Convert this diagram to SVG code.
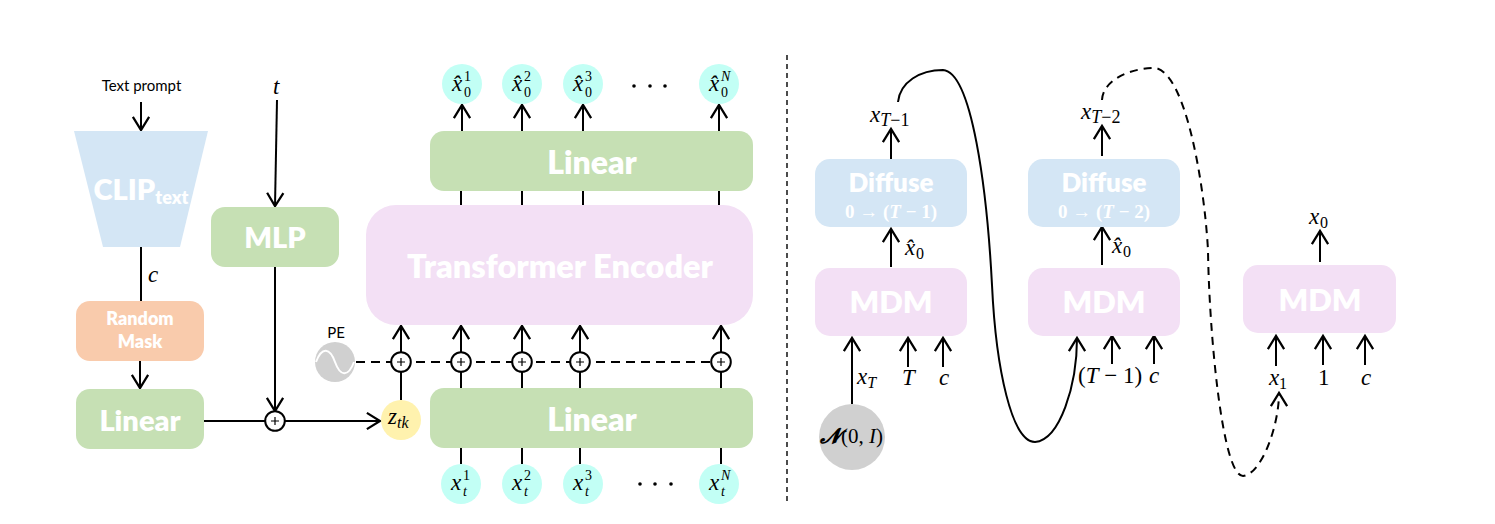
<svg xmlns="http://www.w3.org/2000/svg" width="1495" height="524" viewBox="0 0 1495 524">
<defs>
<marker id="v" markerUnits="userSpaceOnUse" markerWidth="20" markerHeight="20" refX="12" refY="8" orient="auto" viewBox="0 0 14 16"><path d="M1.5 1.5L12 8L1.5 14.5" fill="none" stroke="#000" stroke-width="1.8"/></marker>
<g id="plus"><circle r="9.8" fill="#fff" stroke="#000" stroke-width="2"/><path d="M-4 0H4M0 -4V4" stroke="#000" stroke-width="1.2"/></g>
</defs>
<style>
.l{stroke:#000;stroke-width:2;fill:none}
.a{stroke:#000;stroke-width:2;fill:none;marker-end:url(#v)}
.d{stroke-dasharray:9 6}
.t{font-family:Lato,"Open Sans",sans-serif;font-weight:800;fill:#fff;text-anchor:middle}
.p{font-family:Lato,"Open Sans",sans-serif;fill:#000;text-anchor:middle;font-size:15px}
.m{font-family:"Liberation Serif",serif;font-style:italic;fill:#000;font-size:23px}
.r{font-family:"Liberation Serif",serif;fill:#000;font-size:23px}
.s{font-size:16px}
.u{font-size:14px}
.x{font-size:18px}
.n{font-style:normal}
.f{font-family:"Liberation Serif",serif;font-weight:700;font-size:19px;fill:#fff;text-anchor:middle}
.g{fill:#c6e0b4}.b{fill:#d4e6f5}.v{fill:#f3e0f5}.o{fill:#f9cbac}.c{fill:#c2fff5}
</style>
<g id="connectors">
<path class="a" d="M141 102V130"/>
<path class="l" d="M141 247V301"/>
<path class="a" d="M140 361V388"/>
<path class="a" d="M277 100L275 206"/>
<path class="a" d="M275 267V411"/>
<path class="l" d="M204 421H265"/>
<path class="a" d="M285 421H380"/>
<path class="l d" d="M356 362H711"/>
<path class="l" d="M401 400V372"/>
<path class="a" d="M401 352V326"/>
<path class="a" d="M461 352V326"/>
<path class="a" d="M522 352V326"/>
<path class="a" d="M580 352V326"/>
<path class="a" d="M721 352V326"/>
<path class="l" d="M461 388V372M522 388V372M580 388V372M721 388V372"/>
<path class="l" d="M461 448V464M522 448V464M580 448V464M721 448V464"/>
<path class="l" d="M461 191V206M522 191V206M583 191V206M719 191V206"/>
<path class="a" d="M462 131V105"/>
<path class="a" d="M522 131V105"/>
<path class="a" d="M583 131V105"/>
<path class="a" d="M719 131V105"/>
<path class="l d" d="M787 55V503" style="stroke-width:1.4;stroke-dasharray:5 4"/>
<path class="a" d="M891 159V129"/>
<path class="a" d="M891 267V229"/>
<path class="a" d="M852 404V338"/>
<path class="a" d="M908 367V338"/>
<path class="a" d="M943 367V338"/>
<path class="a" d="M1102 156V126"/>
<path class="a" d="M1102 265V227"/>
<path class="a" d="M1112 364V336"/>
<path class="a" d="M1154 364V336"/>
<path class="a" d="M1320 262V231"/>
<path class="a" d="M1276 366V336"/>
<path class="a" d="M1323 365V336"/>
<path class="a" d="M1365 365V336"/>
<path class="a" d="M898 102C900 82 920 70 943 70C972 72 987 190 992 285C996 370 1012 442 1035 442C1060 440 1077 385 1077 338"/>
<path class="a d" style="stroke-dasharray:8 6" d="M1102 100C1103 80 1130 68 1155 68C1185 72 1204 180 1208 250C1209 330 1222 476 1243 476C1262 474 1279 425 1279 393"/>
<use href="#plus" x="275" y="421"/>
<use href="#plus" x="401" y="362"/>
<use href="#plus" x="461" y="362"/>
<use href="#plus" x="522" y="362"/>
<use href="#plus" x="580" y="362"/>
<use href="#plus" x="721" y="362"/>
</g>
<g id="text-prompt"><text class="p" x="141.500" y="91">Text prompt</text></g>
<g id="clip"><polygon class="b" points="74,131 208,131 180,247 103,247"/><text class="t" x="141" y="200" font-size="29">CLIP<tspan font-size="18" dy="4">text</tspan></text></g>
<g id="c-label"><text class="m" x="148" y="282">c</text></g>
<g id="t-label"><text class="m" x="273" y="94">t</text></g>
<g id="mlp"><rect class="g" x="211" y="207" width="128" height="60" rx="14"/><text class="t" x="275" y="248" font-size="29">MLP</text></g>
<g id="random-mask"><rect class="o" x="76" y="301" width="128" height="60" rx="14"/><text class="t" x="140" y="325" font-size="18">Random</text><text class="t" x="140" y="348" font-size="18">Mask</text></g>
<g id="linear-left"><rect class="g" x="76" y="389" width="128" height="60" rx="14"/><text class="t" x="140" y="431" font-size="29">Linear</text></g>
<g id="pe"><circle cx="335" cy="362" r="20" fill="#d0d0d0"/><path d="M316 362C322 346 330 348 335 362C340 376 348 378 354 362" fill="none" stroke="#fff" stroke-width="2"/><text class="p" x="336" y="338">PE</text></g>
<g id="z-tk"><circle cx="401" cy="420" r="20" fill="#fff2ae"/><text class="m" x="388" y="424">z<tspan class="s" dy="4">tk</tspan></text></g>
<g id="linear-bottom"><rect class="g" x="430" y="388" width="323" height="60" rx="14"/><text class="t" x="592" y="431" font-size="32">Linear</text></g>
<g id="linear-top"><rect class="g" x="430" y="131" width="323" height="60" rx="14"/><text class="t" x="592" y="174" font-size="32">Linear</text></g>
<g id="transformer"><rect class="v" x="366" y="205" width="387" height="120" rx="30"/><text class="t" x="560" y="278" font-size="32.500">Transformer Encoder</text></g>
<g id="xt1"><circle class="c" cx="461" cy="484" r="20"/><text class="m" x="451" y="490">x</text><text class="r u" x="463" y="480">1</text><text class="m u" x="463" y="496">t</text></g>
<g id="xt2"><circle class="c" cx="522" cy="484" r="20"/><text class="m" x="512" y="490">x</text><text class="r u" x="524" y="480">2</text><text class="m u" x="524" y="496">t</text></g>
<g id="xt3"><circle class="c" cx="583" cy="484" r="20"/><text class="m" x="573" y="490">x</text><text class="r u" x="585" y="480">3</text><text class="m u" x="585" y="496">t</text></g>
<g id="xtN"><circle class="c" cx="719" cy="484" r="20"/><text class="m" x="709" y="490">x</text><text class="m u" x="721" y="480">N</text><text class="m u" x="721" y="496">t</text></g>
<g id="dots-bottom"><circle cx="640" cy="484" r="1.800"/><circle cx="655" cy="484" r="1.800"/><circle cx="671" cy="484" r="1.800"/></g>
<g id="x01"><circle class="c" cx="462" cy="84" r="20"/><text class="m" x="452" y="91">x̂</text><text class="r u" x="464" y="81">1</text><text class="r u" x="464" y="97">0</text></g>
<g id="x02"><circle class="c" cx="522" cy="84" r="20"/><text class="m" x="512" y="91">x̂</text><text class="r u" x="524" y="81">2</text><text class="r u" x="524" y="97">0</text></g>
<g id="x03"><circle class="c" cx="583" cy="84" r="20"/><text class="m" x="573" y="91">x̂</text><text class="r u" x="585" y="81">3</text><text class="r u" x="585" y="97">0</text></g>
<g id="x0N"><circle class="c" cx="719" cy="84" r="20"/><text class="m" x="709" y="91">x̂</text><text class="m u" x="721" y="81">N</text><text class="r u" x="721" y="97">0</text></g>
<g id="dots-top"><circle cx="634" cy="86" r="1.800"/><circle cx="650" cy="86" r="1.800"/><circle cx="665" cy="86" r="1.800"/></g>
<g id="diffuse-1"><rect class="b" x="815" y="159" width="152" height="68" rx="15"/><text class="t" x="891" y="192" font-size="26">Diffuse</text><text class="f" x="891" y="218">0 → (<tspan font-style="italic">T</tspan> − 1)</text></g>
<g id="diffuse-2"><rect class="b" x="1028" y="159" width="152" height="68" rx="15"/><text class="t" x="1104" y="192" font-size="26">Diffuse</text><text class="f" x="1104" y="218">0 → (<tspan font-style="italic">T</tspan> − 2)</text></g>
<g id="mdm-1"><rect class="v" x="815" y="268" width="152" height="68" rx="15"/><text class="t" x="891" y="313" font-size="31">MDM</text></g>
<g id="mdm-2"><rect class="v" x="1028" y="268" width="152" height="68" rx="15"/><text class="t" x="1104" y="313" font-size="31">MDM</text></g>
<g id="mdm-3"><rect class="v" x="1243" y="265" width="153" height="68" rx="15"/><text class="t" x="1320" y="311" font-size="31">MDM</text></g>
<g id="x-t-1"><text class="m" x="870" y="122">x<tspan class="x" dy="4">T</tspan><tspan class="x n">−1</tspan></text></g>
<g id="x-t-2"><text class="m" x="1081" y="119">x<tspan class="x" dy="4">T</tspan><tspan class="x n">−2</tspan></text></g>
<g id="x0hat-1"><text class="m" x="905" y="255">x̂</text><text class="r s" x="916" y="259">0</text></g>
<g id="x0hat-2"><text class="m" x="1112" y="253">x̂</text><text class="r s" x="1123" y="257">0</text></g>
<g id="labels-1"><text class="m" x="857" y="384">x<tspan class="s" dy="4">T</tspan></text><text class="m" x="902" y="385">T</text><text class="m" x="939" y="385">c</text></g>
<g id="labels-2"><text class="r" x="1078" y="383">(<tspan font-style="italic">T</tspan> − 1)</text><text class="m" x="1149" y="383">c</text></g>
<g id="noise"><circle cx="852" cy="437" r="33" fill="#d0d0d0"/><text x="820" y="443" font-family="Liberation Serif,serif" font-size="21"><tspan font-weight="700" font-style="italic">𝓝</tspan><tspan dx="1">(0, </tspan><tspan font-style="italic">I</tspan>)</text></g>
<g id="x0-out"><text class="m" x="1309" y="224">x</text><text class="r s" x="1320" y="228">0</text></g>
<g id="labels-3"><text class="m" x="1269" y="385">x</text><text class="r s" x="1279" y="389">1</text><text class="r" x="1318" y="385">1</text><text class="m" x="1361" y="385">c</text></g>
</svg>
